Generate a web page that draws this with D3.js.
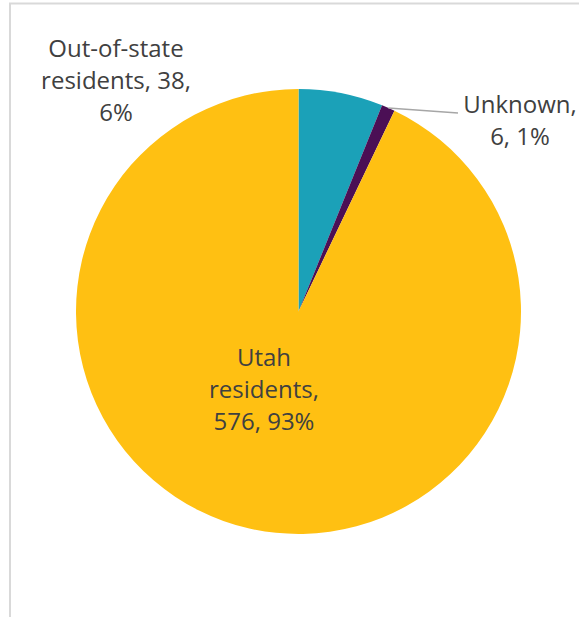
<!DOCTYPE html>
<html>
<head>
<meta charset="utf-8">
<script src="https://cdn.jsdelivr.net/npm/d3@7"></script>
<style>
  html, body { margin: 0; padding: 0; background: #ffffff; }
  svg { display: block; }
</style>
</head>
<body>
<svg id="chart" width="579" height="617"></svg>
<script>
const categories = ["Out-of-state residents", "Unknown", "Utah residents"];
const values = [38, 6, 576];
const percents = ["6%", "1%", "93%"];
const colors = ["#1ba1b8", "#4b0f55", "#ffc012"];

const W = 579, H = 617;
const cx = 298.5, cy = 311.5, R = 222.5;
const svg = d3.select("#chart");

// frame
svg.append("path")
  .attr("d", `M10,${H} L10,3.5 L${W},3.5`)
  .attr("fill", "none")
  .attr("stroke", "#d9d9d9")
  .attr("stroke-width", 2);

const pie = d3.pie().sort(null).value(d => d);
const arcs = pie(values);
const arc = d3.arc().innerRadius(0).outerRadius(R);

const g = svg.append("g").attr("transform", `translate(${cx},${cy})`);
g.selectAll("path.slice")
  .data(arcs)
  .join("path")
  .attr("class", "slice")
  .attr("d", arc)
  .attr("fill", (d, i) => colors[i]);

// leader line for Unknown
const uk = arcs[1];
const midA = (uk.startAngle + uk.endAngle) / 2;
const p0 = [Math.sin(midA) * R, -Math.cos(midA) * R];
g.append("path")
  .attr("d", `M${p0[0]},${p0[1]} L${458 - cx},${113 - cy}`)
  .attr("fill", "none")
  .attr("stroke", "#a6a6a6")
  .attr("stroke-width", 1.5);

const labelLines = [
  [categories[0].split(" ")[0], `${categories[0].split(" ")[1]}, ${values[0]},`, percents[0]],
  [`${categories[1]},`, `${values[1]}, ${percents[1]}`],
  [categories[2].split(" ")[0], `${categories[2].split(" ")[1]},`, `${values[2]}, ${percents[2]}`]
];
const labelPos = [[116, 57], [520, 113], [264, 366]];
const lh = 32;

labelLines.forEach((lines, i) => {
  const t = svg.append("text")
    .attr("text-anchor", "middle")
    .attr("font-family", "'Open Sans', sans-serif")
    .attr("font-size", 24)
    .attr("fill", "#404040");
  lines.forEach((ln, j) => {
    t.append("tspan")
      .attr("x", labelPos[i][0])
      .attr("y", labelPos[i][1] + j * lh)
      .text(ln);
  });
});
</script>
</body>
</html>
